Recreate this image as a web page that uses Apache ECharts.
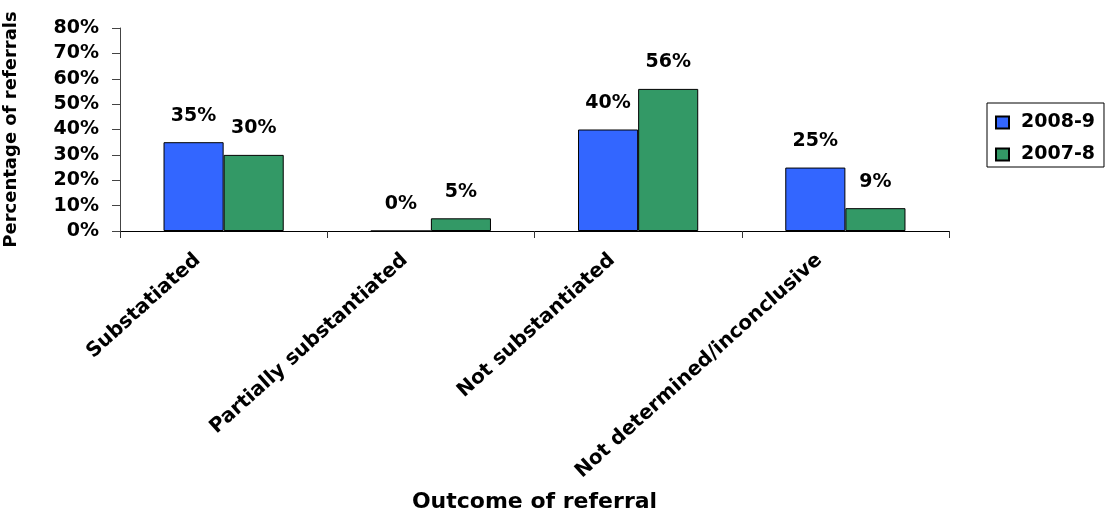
<!DOCTYPE html>
<html>
<head>
<meta charset="utf-8">
<script src="https://cdn.jsdelivr.net/npm/echarts@6.0.0/dist/echarts.min.js"></script>
<style>
  html, body { margin: 0; padding: 0; background: #ffffff; }
  #chart { width: 1105px; height: 514px; }
</style>
</head>
<body>
<div id="chart"></div>
<script>
// Outcome categories and the share of referrals in each year
const categories = ['Substatiated', 'Partially substantiated', 'Not substantiated', 'Not determined/inconclusive'];
const seriesNames = ['2008-9', '2007-8'];
const values2008_9 = [35, 0, 40, 25];
const values2007_8 = [30, 5, 56, 9];
const yTicks = [0, 10, 20, 30, 40, 50, 60, 70, 80];

const FONT = '"DejaVu Sans", sans-serif';
const colors = ['#3366FF', '#339966'];

const chart = echarts.init(document.getElementById('chart'));

function barSeries(name, data, color) {
  return {
    name: name,
    type: 'bar',
    data: data,
    barGap: '0%',
    barCategoryGap: '42%',
    itemStyle: { color: color, borderColor: '#000000', borderWidth: 1 },
    label: {
      show: true,
      position: 'top',
      distance: 17,
      formatter: '{c}%',
      fontFamily: FONT,
      fontWeight: 'bold',
      fontSize: 19,
      color: '#000000'
    }
  };
}

chart.setOption({
  animation: false,
  backgroundColor: '#ffffff',
  textStyle: { fontFamily: FONT },
  grid: {
    left: 120, right: 156, top: 28, bottom: 283,
    containLabel: false,
    outerBoundsMode: 'none'
  },
  legend: {
    orient: 'vertical',
    left: 987,
    top: 103,
    data: seriesNames,
    icon: 'rect',
    itemWidth: 13,
    itemHeight: 12,
    itemGap: 13,
    padding: [10, 9, 3, 8],
    borderColor: '#000000',
    borderWidth: 1,
    textStyle: {
      fontFamily: FONT,
      fontWeight: 'bold',
      fontSize: 19,
      lineHeight: 18,
      color: '#000000',
      padding: [0, 0, 0, 7]
    }
  },
  xAxis: {
    type: 'category',
    data: categories,
    name: 'Outcome of referral',
    nameLocation: 'middle',
    nameGap: 260,
    nameTextStyle: { fontFamily: FONT, fontWeight: 'bold', fontSize: 22, color: '#000000' },
    axisLine: { lineStyle: { color: '#000000', width: 1 } },
    axisTick: { show: true, length: 7, lineStyle: { color: '#333333' } },
    axisLabel: {
      interval: 0,
      rotate: 42,
      margin: 3,
      padding: [0, 35, 0, 0],
      fontFamily: FONT,
      fontWeight: 'bold',
      fontSize: 20,
      color: '#000000'
    },
    splitLine: { show: false }
  },
  yAxis: {
    type: 'value',
    min: yTicks[0],
    max: yTicks[yTicks.length - 1],
    interval: yTicks[1] - yTicks[0],
    name: 'Percentage of referrals',
    nameLocation: 'middle',
    nameRotate: 90,
    nameGap: 100,
    nameTextStyle: { fontFamily: FONT, fontWeight: 'bold', fontSize: 18, color: '#000000' },
    axisLine: { show: true, lineStyle: { color: '#444444', width: 1 } },
    axisTick: { show: true, inside: false, length: 8, lineStyle: { color: '#444444' } },
    axisLabel: {
      margin: 21,
      formatter: '{value}%',
      fontFamily: FONT,
      fontWeight: 'bold',
      fontSize: 19,
      color: '#000000'
    },
    splitLine: { show: false }
  },
  series: [
    barSeries(seriesNames[0], values2008_9, colors[0]),
    barSeries(seriesNames[1], values2007_8, colors[1])
  ]
});
</script>
</body>
</html>
